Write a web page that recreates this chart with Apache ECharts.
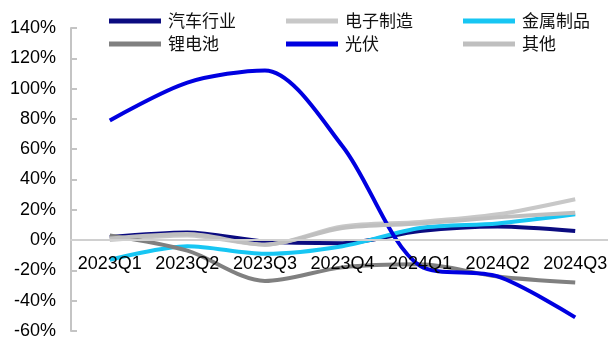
<!DOCTYPE html>
<html><head><meta charset="utf-8">
<script src="https://cdn.jsdelivr.net/npm/echarts@6/dist/echarts.min.js"></script>
<style>html,body{margin:0;padding:0;background:#fff}#c{width:608px;height:340px}</style>
</head><body><div id="c"></div>
<script>
const categories = ['2023Q1','2023Q2','2023Q3','2023Q4','2024Q1','2024Q2','2024Q3'];
const auto = [2, 5, -1, -2, 6, 9, 6];
const electronics = [0, 3, -3, 9, 12, 17, 27];
const metal = [-13, -4, -9, -4, 8, 11, 17];
const lithium = [3, -7, -27, -18, -16, -24, -28];
const pv = [79, 104, 112, 62, -17, -24, -51];
const others = [1, 4, -3, 8, 11, 15, 18];
const yTicks = {min: -60, max: 140, interval: 20};

const names = ['汽车行业','电子制造','金属制品','锂电池','光伏','其他'];
const colors = ['#0b0b80','#c8c8c8','#17c6f3','#808080','#0000e0','#bfbfbf'];
const datas = [auto, electronics, metal, lithium, pv, others];

const gridTop = 28, gridBottom = 9, chartH = 340;
const plotH = chartH - gridTop - gridBottom;
const zeroOffset = -plotH * (0 - yTicks.min) / (yTicks.max - yTicks.min);

const chart = echarts.init(document.getElementById('c'));
const legendBase = {
  orient: 'vertical', top: 7, itemWidth: 52, itemHeight: 5, itemGap: 5,
  icon: 'rect',
  textStyle: {fontFamily: 'Noto Sans CJK SC', fontSize: 17, color: '#111', lineHeight: 18, padding: [0,0,0,2]}
};
chart.setOption({
  animation: false,
  legend: [
    Object.assign({}, legendBase, {left: 104, data: ['汽车行业','锂电池']}),
    Object.assign({}, legendBase, {left: 281, data: ['电子制造','光伏']}),
    Object.assign({}, legendBase, {left: 458, data: ['金属制品','其他']})
  ],
  grid: {left: 71, right: -6, top: gridTop, bottom: gridBottom, containLabel: false, outerBoundsMode: 'none'},
  xAxis: {
    type: 'category', data: categories, boundaryGap: true, position: 'bottom', offset: zeroOffset, z: 10,
    axisLine: {show: true, onZero: false, lineStyle: {color: '#d0d0d0', width: 2}},
    axisTick: {show: false},
    axisLabel: {show: true, margin: 15, fontFamily: 'Liberation Sans', fontSize: 18, color: '#000', interval: 0}
  },
  yAxis: {
    type: 'value', min: yTicks.min, max: yTicks.max, interval: yTicks.interval,
    splitLine: {show: false},
    axisLine: {show: true, lineStyle: {color: '#c4c4c4', width: 2}},
    axisTick: {show: true, inside: true, length: 6, lineStyle: {color: '#c4c4c4', width: 2}},
    axisLabel: {margin: 15, fontFamily: 'Liberation Sans', fontSize: 18, color: '#000', formatter: v => v + '%'}
  },
  series: names.map((n, i) => ({
    name: n, type: 'line', data: datas[i], smooth: 0.3, showSymbol: false, symbol: 'none',
    itemStyle: {color: colors[i]},
    lineStyle: {color: colors[i], width: 4}
  }))
});
</script></body></html>
